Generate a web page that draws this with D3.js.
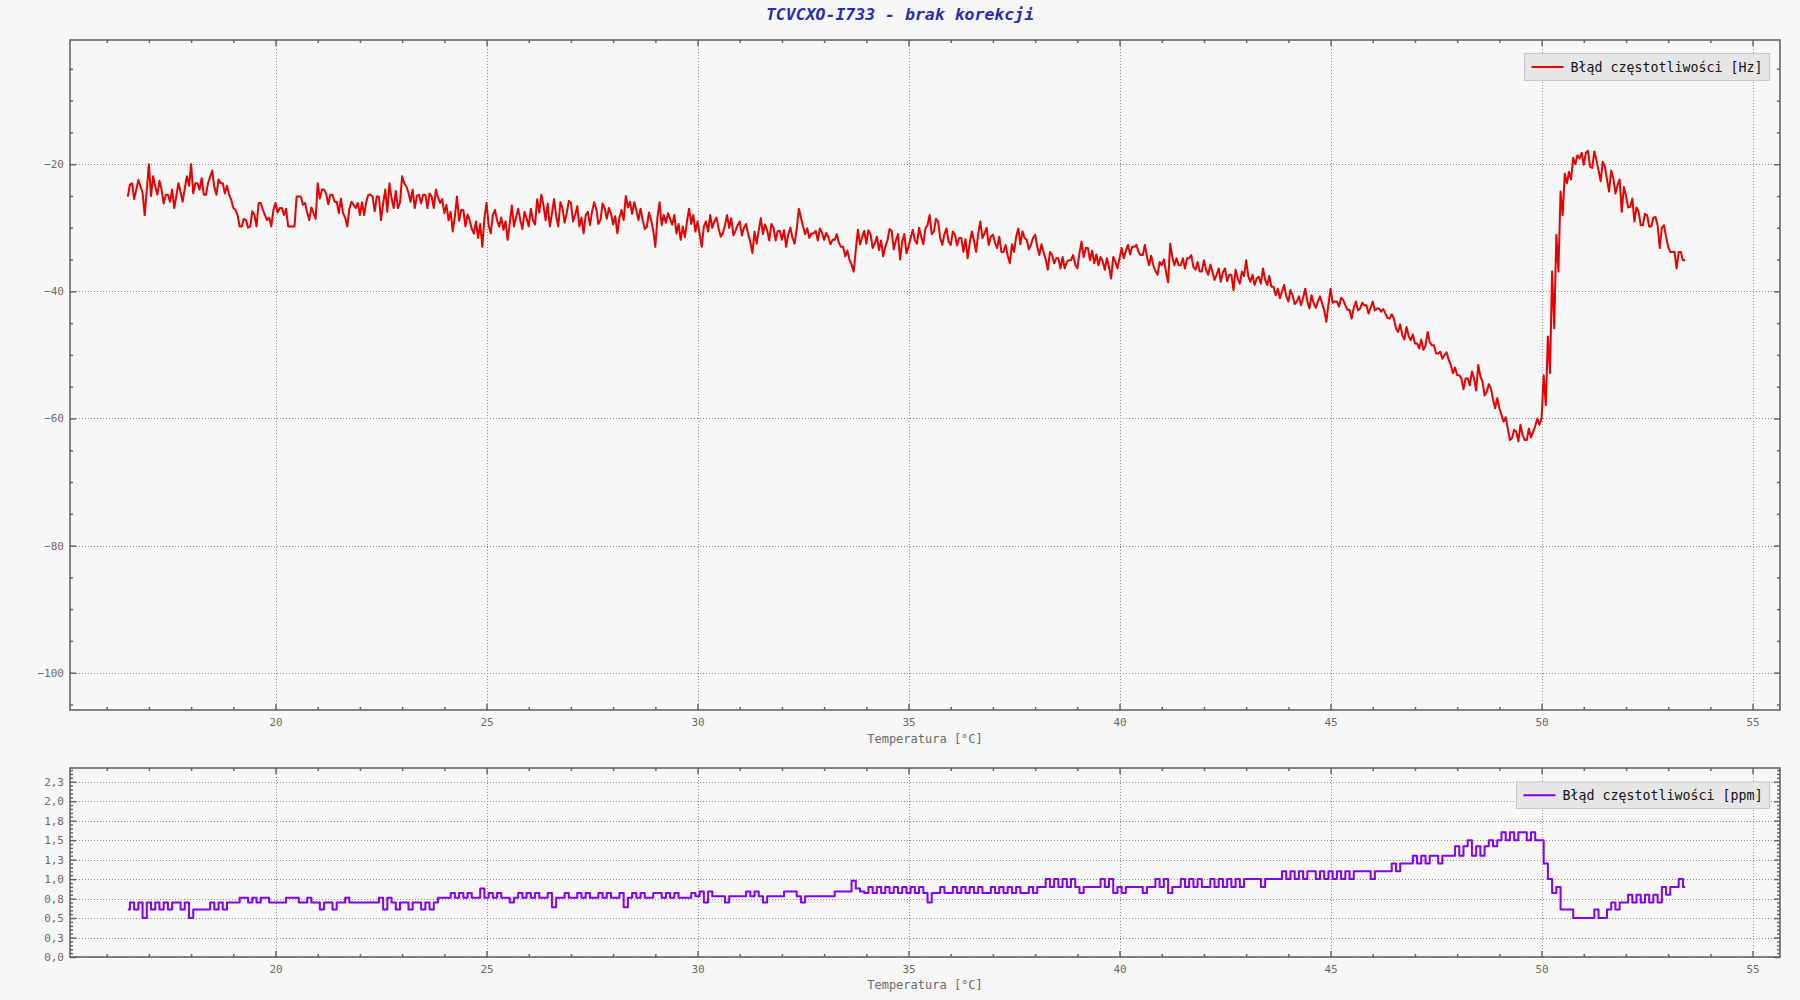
<!DOCTYPE html>
<html><head><meta charset="utf-8">
<script src="https://cdn.jsdelivr.net/npm/d3@7"></script>
<style>
html,body{margin:0;padding:0;background:#f7f7f7;}
svg{display:block;}
text{font-family:"DejaVu Sans Mono",monospace;}
</style></head><body>
<svg id="chart" width="1800" height="1000"></svg>
<script>
const chartTitle = "TCVCXO-I733 - brak korekcji";
const xLabel = "Temperatura [°C]";
const legendHz = "Błąd częstotliwości [Hz]";
const legendPpm = "Błąd częstotliwości [ppm]";

// temperature sweep sampling (°C): first sample and step of each series
const hzTempStart = 16.5, hzTempStep = 0.05;
const ppmTempStart = 16.5, ppmTempStep = 0.1;

// frequency error [Hz], one value per temperature sample
const errorHz = [
 -25.1,-23.2,-23.0,-25.5,-24.0,-22.5,-23.5,-24.5,-28.0,-24.0,
 -20.0,-25.0,-21.9,-23.5,-24.8,-22.6,-24.0,-26.2,-24.8,-24.8,-25.9,-24.0,-26.9,-25.0,-23.0,-24.4,-25.9,-23.8,-21.9,-23.4,
 -20.0,-24.6,-23.0,-23.0,-24.0,-22.2,-24.8,-24.8,-23.0,-22.0,-21.0,-23.6,-24.8,-22.4,-23.0,-23.0,-24.6,-23.4,-24.8,-25.6,
 -26.9,-27.2,-28.0,-29.8,-29.8,-28.6,-28.8,-30.0,-29.8,-27.4,-28.0,-29.8,-26.1,-26.1,-27.2,-28.0,-28.8,-28.4,-29.8,-27.2,
 -26.1,-27.6,-26.9,-26.9,-28.0,-27.0,-29.8,-29.8,-29.8,-29.8,-25.1,-25.1,-25.1,-26.4,-26.1,-27.6,-28.8,-26.8,-27.7,-28.6,
 -23.0,-25.4,-24.0,-24.0,-24.6,-26.3,-24.8,-24.8,-25.9,-25.9,-27.7,-25.4,-27.7,-28.4,-29.8,-27.0,-25.9,-26.4,-26.9,-26.1,
 -28.0,-26.0,-28.0,-25.9,-24.8,-24.8,-25.1,-27.4,-25.1,-25.1,-28.8,-26.2,-24.0,-27.5,-23.0,-25.4,-26.9,-24.2,-26.9,-26.0,
 -21.9,-23.0,-23.5,-24.5,-25.9,-24.0,-26.9,-25.0,-24.8,-26.2,-24.8,-24.8,-26.9,-24.6,-25.1,-26.9,-24.0,-25.2,-26.1,-25.5,
 -27.7,-26.4,-28.8,-27.5,-30.6,-28.2,-25.1,-28.9,-27.2,-27.2,-29.8,-27.9,-28.8,-30.2,-30.9,-29.0,-31.6,-29.4,-33.0,-28.5,
 -26.1,-29.6,-30.9,-28.0,-27.2,-28.8,-29.8,-28.4,-30.3,-29.0,-31.9,-29.4,-26.5,-29.8,-28.4,-27.0,-28.8,-30.2,-27.5,-28.5,
 -29.8,-27.0,-28.8,-29.5,-25.5,-27.6,-24.8,-26.5,-28.8,-26.2,-29.8,-27.8,-25.5,-28.2,-29.8,-26.0,-26.9,-29.2,-27.7,-25.8,
 -26.1,-29.0,-28.0,-26.6,-29.8,-28.4,-30.9,-28.0,-27.5,-29.6,-27.5,-26.0,-27.0,-29.4,-28.8,-26.2,-26.9,-28.6,-26.9,-27.8,
 -29.5,-28.2,-30.9,-28.4,-27.2,-28.8,-25.0,-26.8,-25.9,-27.8,-26.0,-27.2,-28.8,-27.0,-28.8,-30.2,-29.8,-27.6,-28.8,-30.4,
 -33.0,-28.4,-26.0,-29.6,-28.0,-29.2,-27.7,-28.6,-29.5,-28.0,-30.9,-29.4,-31.9,-29.8,-31.5,-29.0,-27.0,-29.4,-28.0,-30.6,
 -29.0,-31.0,-33.0,-29.8,-29.0,-30.6,-28.0,-30.0,-29.0,-28.4,-30.1,-31.4,-30.9,-29.6,-28.0,-30.0,-28.5,-31.2,-30.5,-29.6,
 -29.0,-31.2,-30.0,-29.4,-31.0,-32.2,-34.0,-30.6,-32.5,-30.4,-28.5,-31.0,-29.5,-30.4,-32.0,-29.4,-30.0,-32.0,-30.5,-30.5,
 -31.9,-30.4,-33.0,-31.0,-30.0,-31.6,-32.5,-30.2,-27.0,-28.4,-29.8,-31.0,-30.1,-31.6,-30.9,-30.9,-30.5,-32.0,-30.1,-30.8,
 -31.9,-30.8,-31.5,-32.6,-31.9,-31.9,-31.0,-32.4,-33.0,-33.0,-34.5,-33.6,-35.0,-35.8,-36.9,-33.5,-30.3,-32.6,-31.5,-30.5,
 -32.5,-30.4,-31.0,-33.2,-32.5,-31.4,-33.5,-32.0,-34.5,-33.0,-32.0,-30.2,-30.5,-33.4,-32.0,-31.0,-35.0,-32.2,-31.0,-34.0,
 -33.0,-31.6,-30.3,-32.0,-32.5,-30.0,-31.4,-32.6,-30.1,-29.6,-28.0,-31.0,-30.6,-28.6,-29.0,-31.6,-32.7,-31.0,-30.1,-32.2,
 -32.7,-30.6,-31.1,-32.8,-31.6,-31.6,-33.8,-31.8,-34.8,-32.4,-30.6,-32.0,-33.8,-31.0,-29.0,-31.6,-30.9,-30.0,-32.7,-31.4,
 -31.1,-32.4,-33.2,-31.4,-33.8,-33.8,-32.7,-34.4,-35.6,-32.6,-33.8,-31.4,-30.1,-32.6,-30.6,-31.6,-31.9,-33.4,-32.7,-31.6,
 -31.1,-33.0,-34.3,-32.6,-33.8,-35.0,-36.6,-33.8,-34.3,-35.6,-34.8,-34.8,-36.4,-34.6,-36.4,-35.4,-35.1,-35.1,-34.3,-35.8,
 -36.4,-34.0,-32.2,-34.6,-33.2,-33.2,-35.1,-33.6,-35.6,-34.2,-35.9,-34.6,-35.3,-36.6,-34.8,-36.2,-38.0,-34.6,-35.3,-36.4,
 -34.8,-33.2,-34.8,-33.6,-32.7,-34.2,-33.0,-33.0,-32.7,-33.8,-34.3,-34.3,-32.7,-34.6,-35.9,-34.4,-35.9,-36.8,-37.4,-35.4,
 -35.9,-35.0,-36.9,-38.6,-32.5,-34.6,-35.9,-34.8,-35.9,-35.9,-34.8,-36.4,-34.8,-34.8,-34.3,-36.2,-36.6,-35.4,-36.9,-36.9,
 -35.1,-36.6,-37.4,-35.8,-36.9,-38.2,-37.4,-36.4,-38.5,-37.0,-36.4,-38.4,-37.4,-37.4,-39.8,-36.6,-38.0,-38.8,-36.9,-37.6,
 -35.1,-37.6,-38.5,-37.4,-39.0,-38.0,-37.7,-38.8,-36.4,-38.2,-39.0,-37.6,-39.3,-39.3,-40.6,-39.6,-41.1,-40.0,-39.0,-40.8,
 -41.6,-39.8,-40.6,-42.0,-41.6,-40.8,-42.2,-41.0,-39.6,-41.6,-42.7,-40.6,-41.9,-42.6,-41.6,-40.8,-41.9,-43.0,-44.8,-42.0,
 -39.6,-41.8,-41.6,-41.6,-42.4,-41.0,-41.4,-42.2,-42.9,-42.9,-44.3,-42.6,-41.6,-43.0,-42.7,-41.8,-42.2,-42.2,-43.5,-42.6,
 -41.6,-43.0,-42.7,-42.7,-43.2,-42.8,-43.5,-44.2,-44.3,-43.6,-44.3,-45.8,-46.4,-45.2,-46.9,-47.6,-45.6,-47.0,-47.7,-46.8,
 -48.2,-48.2,-49.0,-47.6,-49.2,-48.6,-46.4,-48.0,-48.5,-48.5,-49.8,-49.8,-49.5,-50.6,-50.0,-49.6,-50.8,-51.6,-52.9,-52.0,
 -53.2,-53.2,-53.7,-55.4,-53.7,-53.7,-54.8,-52.6,-53.7,-55.6,-51.6,-53.4,-54.2,-56.4,-55.8,-54.6,-55.3,-57.0,-58.4,-56.8,
 -58.4,-59.4,-60.5,-59.8,-61.6,-63.4,-63.1,-61.8,-62.1,-63.6,-61.0,-62.6,-63.4,-63.4,-61.6,-63.0,-62.1,-61.2,-60.0,-61.0,
 -60.0,-53.2,-57.9,-47.1,-52.9,-36.9,-45.8,-31.1,-36.9,-24.3,-28.0,-21.5,-23.0,-21.2,-22.4,-19.0,-20.0,-18.6,-19.1,-18.2,
 -20.1,-18.2,-17.9,-20.4,-20.6,-18.0,-19.3,-21.0,-22.7,-19.6,-20.4,-22.4,-24.3,-21.0,-22.2,-24.6,-23.3,-22.4,-27.5,-23.6,
 -24.9,-26.8,-26.7,-25.4,-29.0,-26.8,-27.5,-29.6,-29.6,-27.8,-28.0,-29.8,-29.8,-28.4,-28.3,-29.6,-33.2,-30.0,-29.6,-31.4,
 -33.0,-33.8,-33.8,-33.8,-36.4,-33.8,-33.8,-35.1,-35.1
];

// frequency error [ppm], one value per temperature sample
const errorPpm = [
 0.61,0.70,0.61,0.70,0.50,
 0.70,0.61,0.70,0.61,0.70,0.61,0.70,0.70,0.61,0.70,
 0.50,0.61,0.61,0.61,0.61,0.70,0.61,0.70,0.61,0.70,
 0.70,0.70,0.76,0.76,0.70,0.76,0.70,0.76,0.76,0.70,
 0.70,0.70,0.70,0.76,0.76,0.76,0.70,0.70,0.76,0.70,
 0.70,0.61,0.70,0.70,0.61,0.70,0.70,0.76,0.70,0.70,
 0.70,0.70,0.70,0.70,0.70,0.76,0.61,0.76,0.70,0.61,
 0.70,0.70,0.61,0.70,0.70,0.61,0.70,0.61,0.70,0.76,
 0.76,0.76,0.82,0.76,0.82,0.76,0.82,0.76,0.76,0.88,
 0.76,0.82,0.76,0.82,0.76,0.76,0.70,0.76,0.82,0.76,
 0.82,0.76,0.82,0.76,0.76,0.82,0.64,0.76,0.76,0.82,
 0.76,0.76,0.82,0.76,0.82,0.76,0.76,0.82,0.76,0.82,
 0.76,0.76,0.82,0.64,0.76,0.82,0.76,0.82,0.76,0.76,
 0.82,0.82,0.76,0.82,0.76,0.82,0.76,0.76,0.76,0.82,
 0.78,0.84,0.70,0.84,0.78,0.78,0.78,0.70,0.78,0.78,
 0.78,0.78,0.84,0.78,0.84,0.78,0.70,0.78,0.78,0.78,
 0.78,0.84,0.84,0.84,0.78,0.70,0.78,0.78,0.78,0.78,
 0.78,0.78,0.78,0.84,0.84,0.84,0.84,0.98,0.88,0.84,
 0.82,0.90,0.82,0.90,0.82,0.90,0.82,0.90,0.82,0.90,
 0.82,0.90,0.82,0.90,0.82,0.70,0.82,0.82,0.90,0.82,
 0.82,0.90,0.82,0.90,0.82,0.90,0.82,0.90,0.82,0.82,
 0.90,0.82,0.90,0.82,0.90,0.82,0.90,0.82,0.82,0.90,
 0.82,0.90,0.90,1.00,0.90,1.00,0.90,1.00,0.90,1.00,
 0.90,0.82,0.90,0.90,0.90,0.90,1.00,0.90,1.00,0.82,
 0.90,0.82,0.90,0.90,0.90,0.90,0.82,0.90,0.90,1.00,
 0.90,1.00,0.82,0.90,0.90,1.00,0.90,1.00,0.90,1.00,
 0.90,0.90,1.00,0.90,1.00,0.90,1.00,0.90,1.00,0.90,
 1.00,1.00,1.00,1.00,0.90,1.00,1.00,1.00,1.00,1.10,
 1.00,1.10,1.00,1.10,1.00,1.10,1.10,1.00,1.10,1.00,
 1.10,1.00,1.10,1.00,1.10,1.00,1.10,1.10,1.10,1.10,
 1.00,1.10,1.10,1.10,1.10,1.20,1.10,1.20,1.20,1.20,
 1.30,1.20,1.30,1.20,1.30,1.30,1.20,1.30,1.30,1.30,
 1.42,1.30,1.42,1.50,1.30,1.42,1.30,1.42,1.50,1.42,
 1.50,1.60,1.50,1.60,1.50,1.60,1.60,1.50,1.60,1.50,
 1.50,1.20,1.00,0.82,0.90,0.61,0.61,0.61,0.50,0.50,
 0.50,0.50,0.50,0.61,0.50,0.50,0.61,0.70,0.61,0.70,
 0.70,0.80,0.70,0.80,0.70,0.80,0.70,0.80,0.70,0.90,
 0.80,0.90,0.90,1.00,0.90
];

const xTicks = [20, 25, 30, 35, 40, 45, 50, 55];
const hzTicks = [-100, -80, -60, -40, -20];
const ppmTicks = [0, 0.25, 0.5, 0.75, 1, 1.25, 1.5, 1.75, 2, 2.25];

const xDomain = [15.13, 55.65];
const hzDomain = [-105.87, -0.46];
const ppmDomain = [0, 2.426];

const hzColor = "#e60000";
const ppmColor = "#8000ff";

const svg = d3.select("#chart");
svg.append("rect").attr("width", 1800).attr("height", 1000).attr("fill", "#f7f7f7");

svg.append("text")
  .attr("x", 900).attr("y", 14)
  .attr("text-anchor", "middle").attr("dominant-baseline", "central")
  .style("font-size", "16.5px").style("font-weight", "bold").style("font-style", "italic")
  .attr("fill", "#2b2bb3")
  .text(chartTitle);

const commaFmt = d3.formatLocale({decimal: ",", thousands: " ", grouping: [3], currency: ["", ""]}).format(".1f");

const hzTemps = errorHz.map((_, i) => +(hzTempStart + i * hzTempStep).toFixed(3));
const ppmTemps = errorPpm.map((_, i) => +(ppmTempStart + i * ppmTempStep).toFixed(3));

function panel(cfg) {
  const {left, right, top, bottom} = cfg;
  const x = d3.scaleLinear().domain(xDomain).range([left, right]);
  const y = d3.scaleLinear().domain(cfg.yDomain).range([bottom, top]);
  const g = svg.append("g");

  // grid
  const grid = g.append("g").attr("stroke", "#8c8c8c").attr("stroke-width", 1)
    .attr("stroke-dasharray", "1,2").attr("shape-rendering", "crispEdges");
  grid.selectAll("line.v").data(xTicks).join("line").attr("class", "v")
    .attr("x1", d => Math.round(x(d)) + 0.5).attr("x2", d => Math.round(x(d)) + 0.5)
    .attr("y1", top).attr("y2", bottom);
  grid.selectAll("line.h").data(cfg.yTicks).join("line").attr("class", "h")
    .attr("y1", d => Math.round(y(d)) + 0.5).attr("y2", d => Math.round(y(d)) + 0.5)
    .attr("x1", left).attr("x2", right);

  // data line
  const pts = cfg.temps.map((t, i) => [t, cfg.values[i]]);
  g.append("path").datum(pts)
    .attr("fill", "none").attr("stroke", cfg.color).attr("stroke-width", 2)
    .attr("stroke-linejoin", "round")
    .attr("d", d3.line().x(d => x(d[0])).y(d => y(d[1])).curve(cfg.curve));

  // axes (ticks inward, mirrored on all sides)
  const axisColor = "#666";
  const styleAxis = sel => {
    sel.select(".domain").remove();
    sel.selectAll(".tick line").attr("stroke", axisColor).attr("stroke-width", 1.5);
    sel.selectAll(".tick text").attr("fill", "#6a6a6a")
      .style("font-family", "'DejaVu Sans Mono', monospace").style("font-size", "11px");
  };
  const minorX = d3.range(16, 56).filter(v => v % 5 !== 0);

  g.append("g").attr("transform", `translate(0,${bottom})`)
    .call(d3.axisBottom(x).tickValues(xTicks).tickSizeInner(-6).tickSizeOuter(0).tickPadding(8).tickFormat(d3.format("d")))
    .call(styleAxis);
  g.append("g").attr("transform", `translate(0,${bottom})`)
    .call(d3.axisBottom(x).tickValues(minorX).tickSizeInner(-3).tickSizeOuter(0).tickFormat(""))
    .call(styleAxis);
  g.append("g").attr("transform", `translate(0,${top})`)
    .call(d3.axisTop(x).tickValues(xTicks).tickSizeInner(-6).tickSizeOuter(0).tickFormat(""))
    .call(styleAxis);
  g.append("g").attr("transform", `translate(0,${top})`)
    .call(d3.axisTop(x).tickValues(minorX).tickSizeInner(-3).tickSizeOuter(0).tickFormat(""))
    .call(styleAxis);

  g.append("g").attr("transform", `translate(${left},0)`)
    .call(d3.axisLeft(y).tickValues(cfg.yTicks).tickSizeInner(-6).tickSizeOuter(0).tickPadding(6).tickFormat(cfg.yFormat))
    .call(styleAxis);
  g.append("g").attr("transform", `translate(${left},0)`)
    .call(d3.axisLeft(y).tickValues(cfg.yMinor).tickSizeInner(-3).tickSizeOuter(0).tickFormat(""))
    .call(styleAxis);
  g.append("g").attr("transform", `translate(${right},0)`)
    .call(d3.axisRight(y).tickValues(cfg.yTicks).tickSizeInner(-6).tickSizeOuter(0).tickFormat(""))
    .call(styleAxis);
  g.append("g").attr("transform", `translate(${right},0)`)
    .call(d3.axisRight(y).tickValues(cfg.yMinor).tickSizeInner(-3).tickSizeOuter(0).tickFormat(""))
    .call(styleAxis);

  // frame
  g.append("rect").attr("x", left).attr("y", top)
    .attr("width", right - left).attr("height", bottom - top)
    .attr("fill", "none").attr("stroke", "#5c5c5c").attr("stroke-width", 1.5);

  // x axis title
  g.append("text").attr("x", (left + right) / 2).attr("y", cfg.titleY)
    .attr("text-anchor", "middle").attr("dominant-baseline", "central")
    .attr("fill", "#6a6a6a").style("font-size", "12px")
    .text(xLabel);

  // legend
  const L = cfg.legend;
  const lg = g.append("g");
  lg.append("rect").attr("x", L.x).attr("y", L.y).attr("width", L.w).attr("height", L.h)
    .attr("fill", "#e6e6e6").attr("stroke", "#c6c6c6").attr("stroke-width", 1);
  lg.append("line").attr("x1", L.x + 7).attr("x2", L.x + 39)
    .attr("y1", L.y + L.h / 2).attr("y2", L.y + L.h / 2)
    .attr("stroke", cfg.color).attr("stroke-width", 2);
  lg.append("text").attr("x", L.x + 46).attr("y", L.y + L.h / 2)
    .attr("dominant-baseline", "central").attr("fill", "#141414")
    .style("font-size", "13.3px").text(L.text);
}

panel({
  left: 70, right: 1780, top: 40, bottom: 710,
  yDomain: hzDomain, yTicks: hzTicks,
  yMinor: d3.range(-105, 0, 5).filter(v => v % 20 !== 0),
  yFormat: d3.format("d"),
  temps: hzTemps, values: errorHz, color: hzColor, curve: d3.curveLinear,
  titleY: 739,
  legend: {x: 1524.5, y: 53.5, w: 245, h: 27, text: legendHz}
});

panel({
  left: 70, right: 1780, top: 768, bottom: 957,
  yDomain: ppmDomain, yTicks: ppmTicks,
  yMinor: d3.range(1, 49).map(v => v * 0.05).filter(v => Math.abs(v / 0.25 - Math.round(v / 0.25)) > 1e-6),
  yFormat: commaFmt,
  temps: ppmTemps, values: errorPpm, color: ppmColor, curve: d3.curveStep,
  titleY: 985,
  legend: {x: 1516.5, y: 782, w: 253, h: 26.5, text: legendPpm}
});
</script>
</body></html>
